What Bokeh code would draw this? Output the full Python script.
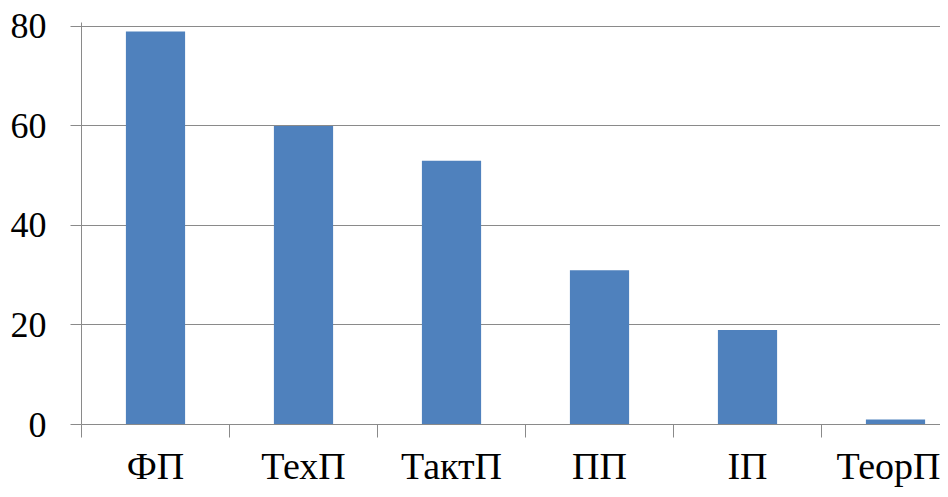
from bokeh.plotting import figure
from bokeh.models import Range1d, FixedTicker
from bokeh.embed import file_html
from bokeh.resources import INLINE

categories = ["ФП", "ТехП", "ТактП", "ПП", "ІП", "ТеорП"]
values = [79, 60, 53, 31, 19, 1]
y_ticks = [0, 20, 40, 60, 80]

centers = [i + 0.5 for i in range(len(categories))]
bounds = list(range(len(categories) + 1))

p = figure(width=940, height=489, output_backend="svg", toolbar_location=None,
           x_range=Range1d(0, 5.804), y_range=Range1d(0, 80.8),
           min_border_left=81, min_border_right=0, min_border_top=22, min_border_bottom=65)
p.outline_line_color = None
p.background_fill_color = "white"
p.border_fill_color = "white"

p.vbar(x=centers, top=values, width=0.4, fill_color="#4F81BD", line_color=None)

GRAY = "#8a8a8a"
FONT = "'Liberation Serif', 'Times New Roman', serif"

p.yaxis.ticker = FixedTicker(ticks=y_ticks)
p.yaxis.axis_line_color = GRAY
p.yaxis.major_tick_line_color = GRAY
p.yaxis.major_tick_out = 11
p.yaxis.major_tick_in = 0
p.yaxis.minor_tick_line_color = None
p.yaxis.major_label_text_font = FONT
p.yaxis.major_label_text_font_size = "36px"
p.yaxis.major_label_text_color = "black"
p.yaxis.major_label_standoff = 24

p.xaxis.ticker = FixedTicker(ticks=centers, minor_ticks=bounds)
p.xaxis.major_label_overrides = {c: lab for c, lab in zip(centers, categories)}
p.xaxis.axis_line_color = GRAY
p.xaxis.major_tick_line_color = None
p.xaxis.major_tick_out = 0
p.xaxis.major_tick_in = 0
p.xaxis.minor_tick_line_color = GRAY
p.xaxis.minor_tick_out = 13
p.xaxis.minor_tick_in = 0
p.xaxis.major_label_text_font = FONT
p.xaxis.major_label_text_font_size = "38px"
p.xaxis.major_label_text_color = "black"
p.xaxis.major_label_standoff = 7

p.xgrid.grid_line_color = None
p.ygrid.ticker = FixedTicker(ticks=y_ticks)
p.ygrid.grid_line_color = GRAY
p.ygrid.grid_line_width = 1

open("out.html", "w").write(file_html(p, INLINE))
